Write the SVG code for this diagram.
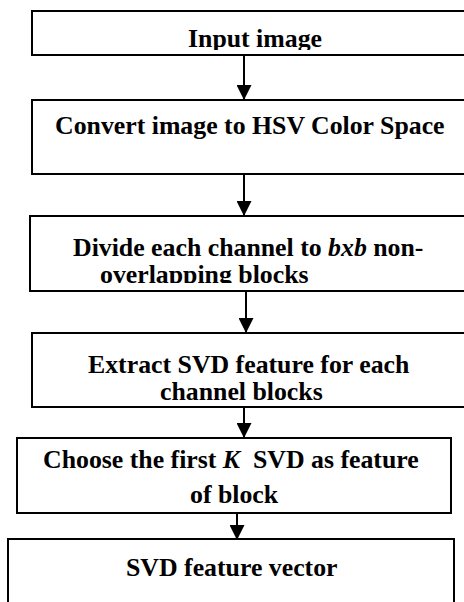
<svg xmlns="http://www.w3.org/2000/svg" width="464" height="602" viewBox="0 0 464 602">
<style>
  .box { fill: #ffffff; stroke: #000000; stroke-width: 2; }
  .t { font-family: "Liberation Serif", "Times New Roman", serif; font-weight: bold; font-size: 25.8px; fill: #000000; }
  .it { font-style: italic; }
  .conn { stroke: #000000; stroke-width: 2; fill: none; }
</style>
<defs>
  <marker id="ah" markerWidth="15" markerHeight="15" refX="15" refY="7.5" orient="auto" markerUnits="userSpaceOnUse">
    <path d="M0,0 L15,7.5 L0,15 Z" fill="#000000"/>
  </marker>
  <clipPath id="c1"><rect x="0" y="0" width="464" height="50"/></clipPath>
  <clipPath id="c3"><rect x="0" y="262" width="464" height="21"/></clipPath>
</defs>
<rect width="464" height="602" fill="#ffffff"/>
<g id="n1">
  <rect class="box" x="32" y="11" width="450" height="44"/>
  <text class="t" x="188" y="47" clip-path="url(#c1)">Input image</text>
</g>
<g id="n2">
  <rect class="box" x="32" y="100" width="450" height="74"/>
  <text class="t" x="55" y="134">Convert image to HSV Color Space</text>
</g>
<g id="n3">
  <rect class="box" x="30" y="216" width="452" height="75"/>
  <text class="t" x="73" y="256">Divide each channel to <tspan class="it">bxb</tspan> non-</text>
  <text class="t" x="100" y="283" clip-path="url(#c3)">overlapping blocks</text>
</g>
<g id="n4">
  <rect class="box" x="32" y="333" width="450" height="74"/>
  <text class="t" x="88" y="373">Extract SVD feature for each</text>
  <text class="t" x="160" y="400">channel blocks</text>
</g>
<g id="n5">
  <rect class="box" x="17" y="438" width="434" height="75"/>
  <text class="t" x="43" y="468" xml:space="preserve">Choose the first <tspan class="it">K</tspan>  SVD as feature</text>
  <text class="t" x="190" y="503">of block</text>
</g>
<g id="n6">
  <rect class="box" x="8" y="539" width="446" height="80"/>
  <text class="t" x="126" y="576">SVD feature vector</text>
</g>
<g id="connectors">
  <line class="conn" x1="244" y1="55" x2="244" y2="100" marker-end="url(#ah)"/>
  <line class="conn" x1="244" y1="174" x2="244" y2="216" marker-end="url(#ah)"/>
  <line class="conn" x1="246" y1="291" x2="246" y2="333" marker-end="url(#ah)"/>
  <line class="conn" x1="244" y1="407" x2="244" y2="438" marker-end="url(#ah)"/>
  <line class="conn" x1="237" y1="513" x2="237" y2="540" marker-end="url(#ah)"/>
</g>
</svg>
